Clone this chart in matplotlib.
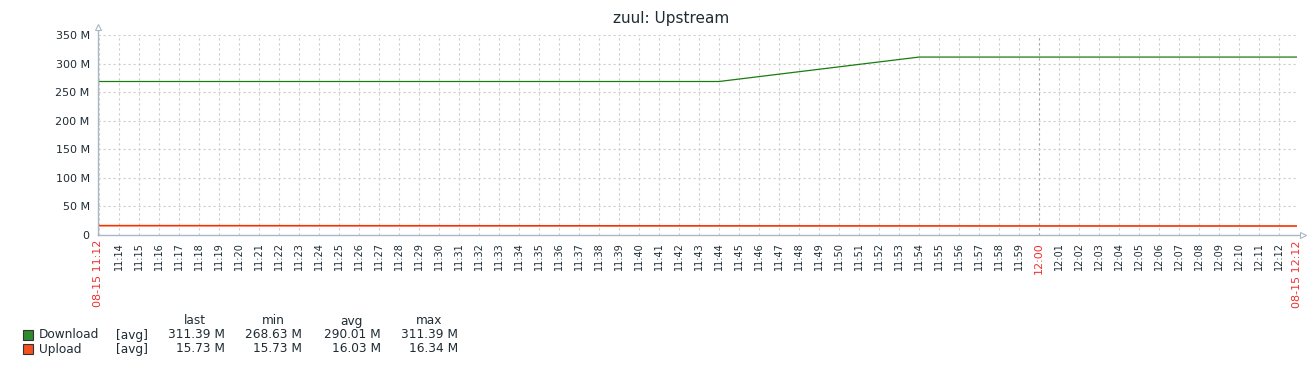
import numpy as np
import matplotlib
matplotlib.use("Agg")
import matplotlib.pyplot as plt
from matplotlib.lines import Line2D

# minutes after 11:00
t_start = 12.95
t_end = 72.9

download_t = [t_start, 44.0, 54.0, t_end]
download_v = [268.63, 268.63, 311.39, 311.39]   # M

upload_t = [t_start, 30.0, 50.0, t_end]
upload_v = [16.34, 16.1, 15.9, 15.73]            # M

yticks = [0, 50, 100, 150, 200, 250, 300, 350]
ytick_labels = ["0", "50 M", "100 M", "150 M", "200 M", "250 M", "300 M", "350 M"]

series = ["Download", "Upload"]
colors = ["#1A7C11", "#F63100"]
legend_colors = ["#2E8B2E", "#F5501E"]
stat_names = ["last", "min", "avg", "max"]
stats = {
    "Download": ["311.39 M", "268.63 M", "290.01 M", "311.39 M"],
    "Upload": ["15.73 M", "15.73 M", "16.03 M", "16.34 M"],
}

W, H = 1316, 371
fig = plt.figure(figsize=(W / 100, H / 100), dpi=100)
ax = fig.add_axes([98 / W, 1 - 235 / H, (1297 - 98) / W, 200 / H])

ax.plot(download_t, download_v, color=colors[0], lw=0.9)
ax.plot(upload_t, upload_v, color=colors[1], lw=1.2)

ax.set_xlim(t_start, t_end)
ax.set_ylim(0, 350)

# grid
minutes = np.arange(13, 73)
for m in minutes:
    c = "#a0a0a0" if m == 60 else "#cccccc"
    ax.axvline(m, color=c, lw=0.8, ls=(0, (2, 2.5)), zorder=0)
for y in yticks[1:]:
    ax.axhline(y, color="#cccccc", lw=0.8, ls=(0, (2, 2.5)), zorder=0)

for s in ax.spines.values():
    s.set_visible(False)

# axis lines with arrows
axis_col = "#A8B8C4"
ax.add_line(Line2D([0, 0], [0, 1.04], transform=ax.transAxes, color=axis_col, lw=1, clip_on=False))
ax.add_line(Line2D([0, 1.005], [0, 0], transform=ax.transAxes, color=axis_col, lw=1, clip_on=False))
ax.plot([0], [1.04], marker="^", ms=5, mfc="white", mec=axis_col, mew=0.8,
        transform=ax.transAxes, clip_on=False)
ax.plot([1.005], [0], marker=">", ms=5, mfc="white", mec=axis_col, mew=0.8,
        transform=ax.transAxes, clip_on=False)

ax.set_yticks(yticks)
ax.set_yticklabels(ytick_labels, fontsize=8, color="#1f2c33")
ax.tick_params(axis="y", length=0, pad=6)

# x labels
xt = list(minutes[1:])
xl = []
for m in xt:
    h = 11 + m // 60
    xl.append("%d:%02d" % (h, m % 60))
ax.set_xticks(xt)
ax.set_xticklabels(xl, rotation=90, fontsize=7, color="#1f2c33")
ax.tick_params(axis="x", length=0, pad=5)
for lab in ax.get_xticklabels():
    if lab.get_text() == "12:00":
        lab.set_color("#f03030")
        lab.set_fontsize(8)

ax.text(t_start, -0.025, "08-15 11:12", transform=ax.get_xaxis_transform(), rotation=90,
        ha="center", va="top", fontsize=8, color="#f03030")
ax.text(t_end, -0.025, "08-15 12:12", transform=ax.get_xaxis_transform(), rotation=90,
        ha="center", va="top", fontsize=8, color="#f03030")

fig.text(671 / W, 1 - 18 / H, "zuul: Upstream", ha="center", va="center",
         fontsize=11, color="#1f2c33")

# legend table
fs = 8.7
col_right = [225, 302, 381, 458]
col_head = [195, 273, 351, 429]
for name, x in zip(stat_names, col_head):
    fig.text(x / W, 1 - 321 / H, name, ha="center", va="center", fontsize=fs, color="#1f2c33")
for i, name in enumerate(series):
    y = 335 + 14 * i
    fig.patches.append(plt.Rectangle((23 / W, 1 - (y + 5) / H), 10 / W, 10 / H,
                                     transform=fig.transFigure, facecolor=legend_colors[i],
                                     edgecolor="#333333", lw=0.8))
    fig.text(39 / W, 1 - y / H, name, ha="left", va="center", fontsize=fs, color="#1f2c33")
    fig.text(116 / W, 1 - y / H, "[avg]", ha="left", va="center", fontsize=fs, color="#1f2c33")
    for v, x in zip(stats[name], col_right):
        fig.text(x / W, 1 - y / H, v, ha="right", va="center", fontsize=fs, color="#1f2c33")

fig.savefig("out.png", dpi=100, facecolor="white")
